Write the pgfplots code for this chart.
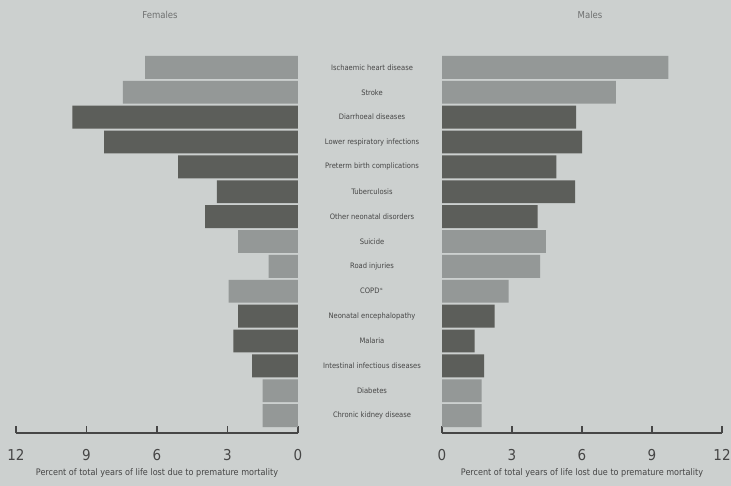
\documentclass[border=0pt]{standalone}
\usepackage{pgfplots}
\pgfplotsset{compat=1.18}
\usepackage{fontspec}
\setmainfont{DejaVu Sans Condensed}
\definecolor{paper}{RGB}{204,208,207}
\definecolor{lightbar}{RGB}{148,152,151}
\definecolor{darkbar}{RGB}{92,94,90}
\definecolor{txt}{RGB}{70,70,70}
\definecolor{ttl}{RGB}{110,112,112}

\pgfplotsset{
  mybar/.style={xbar, bar width=0.92, bar shift=0pt, draw=none},
  common/.style={
    scale only axis, height=378pt,
    ymin=0.5, ymax=15.7, y dir=reverse,
    xmin=0, xmax=12, xtick={0,3,6,9,12},
    axis x line*=bottom, xtick align=inside,
    major tick length=7pt,
    x axis line style={draw=txt, line width=1.1pt},
    xtick style={draw=txt, line width=1.1pt},
    xticklabel style={font=\fontsize{15}{15}\selectfont, text=txt, yshift=-13pt},
    /pgf/number format/assume math mode=true,
    xlabel={Percent of total years of life lost due to premature mortality},
    xlabel style={font=\fontsize{9}{9}\selectfont, text=txt, yshift=-1pt},
  }
}

\begin{document}
\begin{tikzpicture}
\path[fill=paper] (0,0) rectangle (731pt,-486pt);
\useasboundingbox (0,0) rectangle (731pt,-486pt);
\node[font=\fontsize{9.5}{9.5}\selectfont, text=ttl] at (160pt,-15pt) {Females};
\node[font=\fontsize{9.5}{9.5}\selectfont, text=ttl] at (590pt,-15pt) {Males};

% Females
\begin{axis}[common, width=282pt, x dir=reverse,
  at={(16pt,-433pt)}, anchor=south west,
  axis y line=none, ytick=\empty]
\addplot[mybar, fill=lightbar] coordinates {
 (6.5,1) (7.45,2) (2.55,8) (1.25,9) (2.95,10) (1.5,14) (1.5,15)};
\addplot[mybar, fill=darkbar] coordinates {
 (9.6,3) (8.25,4) (5.1,5) (3.45,6) (3.95,7) (2.55,11) (2.75,12) (1.95,13)};
\end{axis}

% Males
\begin{axis}[common, width=280pt,
  at={(442pt,-433pt)}, anchor=south west,
  axis y line*=left, y axis line style={draw=none}, ytick style={draw=none},
  ytick={1,...,15},
  yticklabels={Ischaemic heart disease, Stroke, Diarrhoeal diseases,
    Lower respiratory infections, Preterm birth complications, Tuberculosis,
    Other neonatal disorders, Suicide, Road injuries, COPD$^{a}$,
    Neonatal encephalopathy, Malaria, Intestinal infectious diseases,
    Diabetes, Chronic kidney disease},
  yticklabel style={anchor=center, xshift=-70pt, font=\fontsize{7.5}{7.5}\selectfont, text=txt}]
\addplot[mybar, fill=lightbar] coordinates {
 (9.7,1) (7.45,2) (4.45,8) (4.2,9) (2.85,10) (1.7,14) (1.7,15)};
\addplot[mybar, fill=darkbar] coordinates {
 (5.75,3) (6.0,4) (4.9,5) (5.7,6) (4.1,7) (2.25,11) (1.4,12) (1.8,13)};
\end{axis}
\end{tikzpicture}
\end{document}
